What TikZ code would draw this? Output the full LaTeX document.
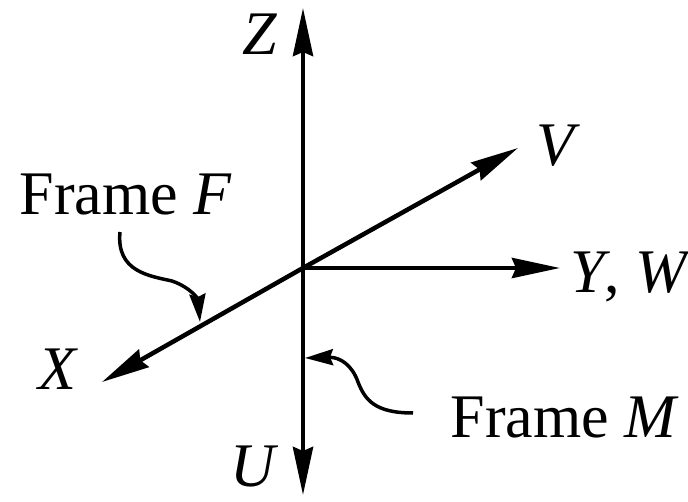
\documentclass[tikz,border=0pt]{standalone}
\usepackage{fontspec}
\setmainfont{Liberation Serif}
\usepackage{tikz}
\usetikzlibrary{arrows.meta}

\begin{document}
\begin{tikzpicture}[x=1pt,y=-1pt]
        \tikzstyle{axis} = [line width=4.5pt, -{Stealth[length=48pt,width=20pt,inset=4pt]}]
        \tikzstyle{pointer} = [line width=3.5pt, -{Stealth[length=28pt,width=16pt,inset=3pt]}]
        \tikzstyle{lbl} = [font=\fontsize{62}{70}\selectfont, inner sep=0pt, anchor=base]
        \useasboundingbox (0,0) rectangle (688,502);

        % Points
        \coordinate (O) at (303,268);
        \coordinate (zTip) at (303,8);
        \coordinate (uTip) at (303,495);
        \coordinate (yTip) at (560,268);
        \coordinate (vTip) at (518,148);
        \coordinate (xTip) at (102,382);
        \coordinate (fStart) at (120,232);
        \coordinate (fEnd) at (200,322);
        \coordinate (mStart) at (413,413);
        \coordinate (mEnd) at (305,358);

        % Nodes
        \node[lbl] (zLabel) at (260,55) {\textit{Z}};
        \node[lbl] (vLabel) at (558,166) {\textit{V}};
        \node[lbl, anchor=base west] (ywLabel) at (570,293) {\textit{Y}, \textit{W}};
        \node[lbl] (xLabel) at (58,390) {\textit{X}};
        \node[lbl] (uLabel) at (255,486) {\textit{U}};
        \node[lbl] (frameF) at (126,215) {Frame \textit{F}};
        \node[lbl] (frameM) at (565,437) {Frame \textit{M}};

        % Edges
        \draw[axis] (O) -- (zTip);
        \draw[axis] (O) -- (uTip);
        \draw[axis] (O) -- (yTip);
        \draw[axis] (O) -- (vTip);
        \draw[axis] (O) -- (xTip);
        \draw[pointer] (fStart) .. controls (116,272) and (150,276) .. (172,281)
                              .. controls (192,288) and (198,300) .. (fEnd);
        \draw[pointer] (mStart) .. controls (375,413) and (365,400) .. (358,382)
                              .. controls (352,365) and (340,357) .. (mEnd);
    \end{tikzpicture}
\end{document}
